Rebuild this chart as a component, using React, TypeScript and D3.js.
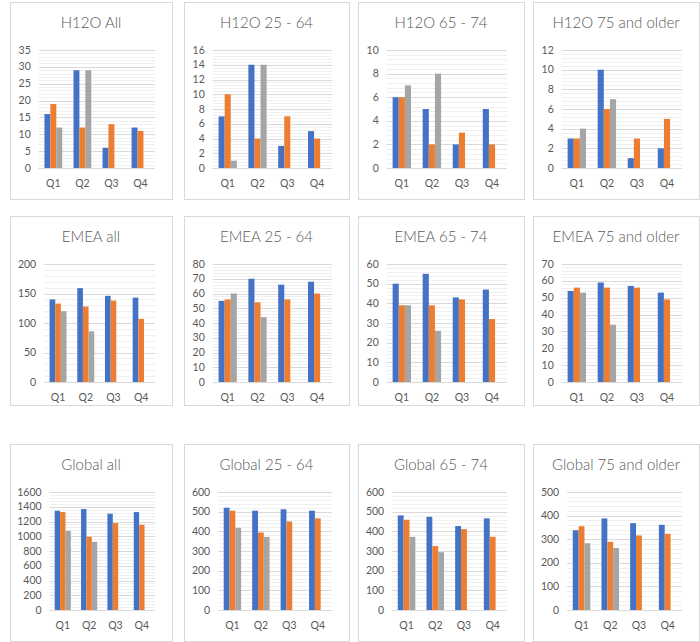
import React from "react";
import * as d3 from "d3";

const quarters = ["Q1", "Q2", "Q3", "Q4"];
const seriesColors = ["#4472C4", "#ED7D31", "#A5A5A5"];

const titles = [
  "H12O All", "H12O 25 - 64", "H12O 65 - 74", "H12O 75 and older",
  "EMEA all", "EMEA 25 - 64", "EMEA 65 - 74", "EMEA 75 and older",
  "Global all", "Global 25 - 64", "Global 65 - 74", "Global 75 and older",
];

const axisMax = [35, 16, 10, 12, 200, 80, 60, 70, 1600, 600, 600, 500];
const axisStep = [5, 2, 2, 2, 50, 10, 10, 10, 200, 100, 100, 100];

// per chart: [blue[], orange[], gray[]] by quarter
const h12oAll = [[16, 29, 6, 12], [19, 12, 13, 11], [12, 29, null, null]];
const h12o2564 = [[7, 14, 3, 5], [10, 4, 7, 4], [1, 14, null, null]];
const h12o6574 = [[6, 5, 2, 5], [6, 2, 3, 2], [7, 8, null, null]];
const h12o75 = [[3, 10, 1, 2], [3, 6, 3, 5], [4, 7, null, null]];
const emeaAll = [[140, 159, 146, 143], [133, 128, 138, 107], [120, 86, null, null]];
const emea2564 = [[55, 70, 66, 68], [56, 54, 56, 60], [60, 44, null, null]];
const emea6574 = [[50, 55, 43, 47], [39, 39, 42, 32], [39, 26, null, null]];
const emea75 = [[54, 59, 57, 53], [56, 56, 56, 49], [53, 34, null, null]];
const globalAll = [[1346, 1369, 1306, 1328], [1328, 993, 1179, 1156], [1074, 925, null, null]];
const global2564 = [[520, 505, 512, 505], [505, 394, 450, 466], [418, 372, null, null]];
const global6574 = [[481, 474, 427, 466], [459, 325, 411, 372], [372, 294, null, null]];
const global75 = [[338, 388, 368, 361], [355, 289, 316, 323], [283, 263, null, null]];

const chartData = [
  h12oAll, h12o2564, h12o6574, h12o75,
  emeaAll, emea2564, emea6574, emea75,
  globalAll, global2564, global6574, global75,
];

const colX = [10, 184, 358, 533];
const colW = [162, 165, 166, 166];
const rowY = [2, 216, 444];
const rowH = [197, 189, 197];

const FONT = "Lato, Carlito, Calibri, 'Open Sans', sans-serif";

function Panel({ idx }: { idx: number }) {
  const col = idx % 4;
  const row = Math.floor(idx / 4);
  const x0 = colX[col];
  const y0 = rowY[row];
  const w = colW[col];
  const h = rowH[row];
  const max = axisMax[idx];
  const step = axisStep[idx];
  const ticks = d3.range(0, max + step / 2, step);
  const minor = d3.range(0, max + 1e-9, step / 5);
  const maxChars = d3.max(ticks, (t) => String(t).length) as number;
  const left = 18 + maxChars * 5.4;
  const right = w - 17;
  const top = 48;
  const bottom = 166;
  const y = d3.scaleLinear().domain([0, max]).range([bottom, top]);
  const gap = 1.9;
  const p = gap / (3 + gap);
  const xb = d3.scaleBand().domain(quarters).range([left, right]).paddingInner(p).paddingOuter(p / 2);
  const xs = d3.scaleBand().domain(["0", "1", "2"]).range([0, xb.bandwidth()]);
  const data = chartData[idx];
  return (
    <g transform={`translate(${x0},${y0})`}>
      <rect x={0.5} y={0.5} width={w} height={h} fill="#fff" stroke="#d9d9d9" />
      <text x={w / 2} y={26} textAnchor="middle" fontSize={15} fontWeight={300} fill="#595959" fontFamily={FONT}>
        {titles[idx]}
      </text>
      {minor.map((m, i) => (
        <line key={"m" + i} x1={left} x2={right} y1={Math.round(y(m)) + 0.5} y2={Math.round(y(m)) + 0.5} stroke="#f0f0f0" />
      ))}
      {ticks.map((t, i) => (
        <line key={"t" + i} x1={left} x2={right} y1={Math.round(y(t)) + 0.5} y2={Math.round(y(t)) + 0.5} stroke="#d9d9d9" />
      ))}
      {ticks.map((t, i) => (
        <text key={"l" + i} x={left - 8} y={y(t) + 3.6} textAnchor="end" fontSize={10.5} fill="#595959" fontFamily={FONT}>
          {t}
        </text>
      ))}
      {data.map((series, si) =>
        series.map((v, qi) =>
          v == null ? null : (
            <rect
              key={si + "-" + qi}
              x={(xb(quarters[qi]) as number) + (xs(String(si)) as number)}
              y={y(v)}
              width={xs.bandwidth()}
              height={y(0) - y(v)}
              fill={seriesColors[si]}
            />
          )
        )
      )}
      <line x1={left} x2={right} y1={Math.round(y(0)) + 0.5} y2={Math.round(y(0)) + 0.5} stroke="#d9d9d9" />
      {quarters.map((q) => (
        <text key={q} x={(xb(q) as number) + xb.bandwidth() / 2} y={185} textAnchor="middle" fontSize={10.5} fill="#595959" fontFamily={FONT}>
          {q}
        </text>
      ))}
    </g>
  );
}

export default function App() {
  return (
    <svg width={700} height={642} style={{ position: "absolute", left: 0, top: 0 }}>
      <rect width={700} height={642} fill="#fff" />
      {titles.map((_, i) => (
        <Panel key={i} idx={i} />
      ))}
    </svg>
  );
}
